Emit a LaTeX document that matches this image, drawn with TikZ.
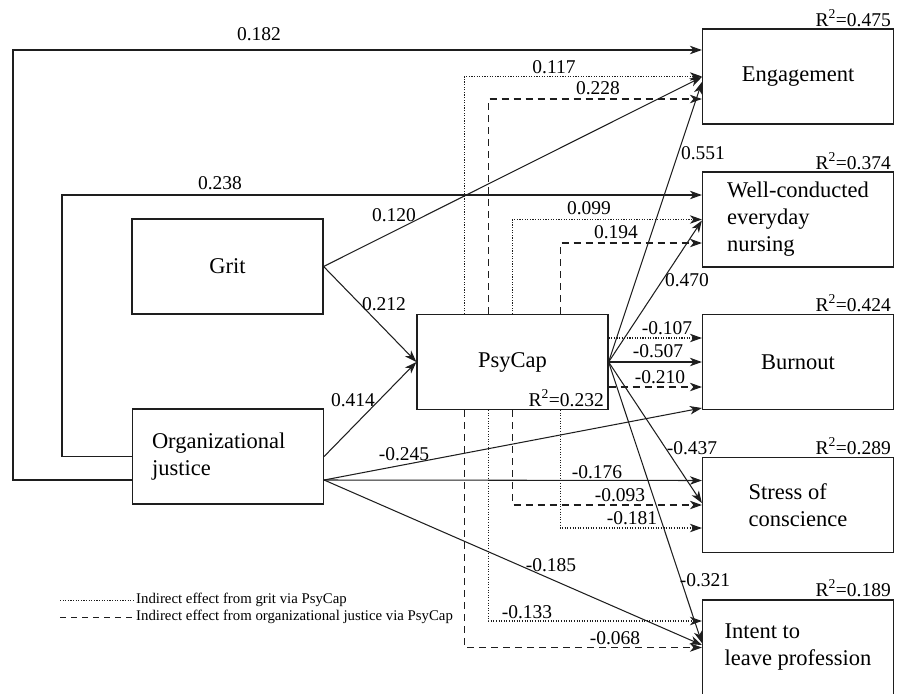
\documentclass[tikz,border=0pt]{standalone}
\usepackage{fontspec}
\setmainfont{Liberation Serif}
\usetikzlibrary{arrows.meta,calc}
\definecolor{ln}{RGB}{30,30,30}
\begin{document}
\begin{tikzpicture}[x=1pt,y=-1pt,
  box/.style={draw=ln, line width=1.2pt, minimum width=191pt, minimum height=95pt, inner sep=0pt, font=\fontsize{22.5}{27}\selectfont},
  lab/.style={font=\fontsize{19.5}{22}\selectfont, inner sep=0pt},
  rsq/.style={font=\fontsize{19.5}{22}\selectfont, inner sep=0pt, anchor=east},
  arr/.style={draw=ln, -{Stealth[length=12pt,width=8.5pt,inset=3.5pt]}, line width=1.05pt},
  dots/.style={dash pattern=on 1.1pt off 1.5pt},
  dsh/.style={dash pattern=on 7pt off 5pt},
  leg/.style={font=\fontsize{14.8}{17}\selectfont, inner sep=1pt, anchor=west}
]
\useasboundingbox (0,0) rectangle (904,693);
\clip (0,0) rectangle (904,693);

% boxes
\node[box] (eng) at (798,76.5) {Engagement};
\node[box, align=left] (well) at (798,219.5) {Well-conducted\\everyday\\nursing};
\node[box] (burn) at (798,362) {Burnout};
\node[box, align=left] (stress) at (798,505) {Stress of\\conscience};
\node[box, align=left] (intent) at (798,647.5) {Intent to\\leave profession};
\node[box] (grit) at (227.5,266.5) {Grit};
\node[box, align=left, text width=152pt] (oj) at (228,456.5) {Organizational\\justice};
\node[box] (psy) at (512.5,362) {PsyCap};

% R2 labels
\node[rsq] (r1) at (891,18) {R\textsuperscript{2}=0.475};
\node[rsq] (r2) at (891,161) {R\textsuperscript{2}=0.374};
\node[rsq] (r3) at (891,303) {R\textsuperscript{2}=0.424};
\node[rsq] (r4) at (891,446) {R\textsuperscript{2}=0.289};
\node[rsq] (r5) at (891,588) {R\textsuperscript{2}=0.189};
\node[rsq] (rp) at (604,398) {R\textsuperscript{2}=0.232};

% direct effects from organizational justice (outer loops)
\draw[arr] ($(oj.west)+(0,23.5)$) -- (13,480) -- (13,50) -- ($(eng.west)+(0,-26.5)$);
\draw[arr] (oj.west) -- (62,456.5) -- (62,195) -- ($(well.west)+(0,-24.5)$);

% solid paths
\draw[arr] (grit.east) -- ($(eng.west)+(0,0.5)$);
\draw[arr] (grit.east) -- (psy.west);
\draw[arr] (oj.east) -- (psy.west);
\draw[arr] (psy.east) -- ($(eng.west)+(0,5.5)$);
\draw[arr] (psy.east) -- ($(well.west)+(0,1)$);
\draw[arr] (psy.east) -- (burn.west);
\draw[arr] (psy.east) -- ($(stress.west)+(0,-2)$);
\draw[arr] (psy.east) -- ($(intent.west)+(0,-4.5)$);
\draw[arr] ($(oj.east)+(0,23.5)$) -- ($(burn.west)+(0,46)$);
\draw[arr] ($(oj.east)+(0,23.5)$) -- ($(stress.west)+(0,-24.5)$);
\draw[arr] ($(oj.east)+(0,23.5)$) -- ($(intent.west)+(0,-2.5)$);

% indirect effects
\draw[arr, dots] ($(psy.north west)+(48,0)$) |- (eng.west);
\draw[arr, dsh] ($(psy.north west)+(72,0)$) |- ($(eng.west)+(0,22.5)$);
\draw[arr, dots] ($(psy.north west)+(96,0)$) |- (well.west);
\draw[arr, dsh] ($(psy.north west)+(144,0)$) |- ($(well.west)+(0,23.5)$);
\draw[arr, dots] ($(psy.east)+(0,-24)$) -- ($(burn.west)+(0,-24)$);
\draw[arr, dsh] ($(psy.east)+(0,25)$) -- ($(burn.west)+(0,25)$);
\draw[arr, dsh] ($(psy.south west)+(96,0)$) |- (stress.west);
\draw[arr, dots] ($(psy.south west)+(144,0)$) |- ($(stress.west)+(0,23)$);
\draw[arr, dots] ($(psy.south west)+(72,0)$) |- ($(intent.west)+(0,-26.5)$);
\draw[arr, dsh] ($(psy.south west)+(48,0)$) |- (intent.west);

% coefficient labels
\node[lab] (c1) at (259,34) {0.182};
\node[lab] (c2) at (220,183) {0.238};
\node[lab] (c3) at (554,67) {0.117};
\node[lab] (c4) at (598,88) {0.228};
\node[lab] (c5) at (394,215) {0.120};
\node[lab] (c6) at (384,304) {0.212};
\node[lab] (c7) at (353,400) {0.414};
\node[lab] (c8) at (404,454) {-0.245};
\node[lab] (c9) at (703,153) {0.551};
\node[lab] (c10) at (589,208) {0.099};
\node[lab] (c11) at (616,232) {0.194};
\node[lab] (c12) at (687,280) {0.470};
\node[lab] (c13) at (667,328) {-0.107};
\node[lab] (c14) at (658,351) {-0.507};
\node[lab] (c15) at (660,377) {-0.210};
\node[lab] (c16) at (692,448) {-0.437};
\node[lab] (c17) at (597,472) {-0.176};
\node[lab] (c18) at (620,495) {-0.093};
\node[lab] (c19) at (632,518) {-0.181};
\node[lab] (c20) at (551,565) {-0.185};
\node[lab] (c21) at (527,612) {-0.133};
\node[lab] (c22) at (615,638) {-0.068};
\node[lab] (c23) at (705,580) {-0.321};

% legend
\coordinate (l1a) at (60,600);
\coordinate (l1b) at (135,600);
\coordinate (l2a) at (60,617);
\coordinate (l2b) at (135,617);
\draw[ln, line width=0.8pt, dots] (l1a) -- (l1b);
\draw[ln, line width=0.9pt, dash pattern=on 6pt off 5pt] (l2a) -- (l2b);
\node[leg] (t1) at (l1b) {Indirect effect from grit via PsyCap};
\node[leg] (t2) at (l2b) {Indirect effect from organizational justice via PsyCap};
\end{tikzpicture}
\end{document}
